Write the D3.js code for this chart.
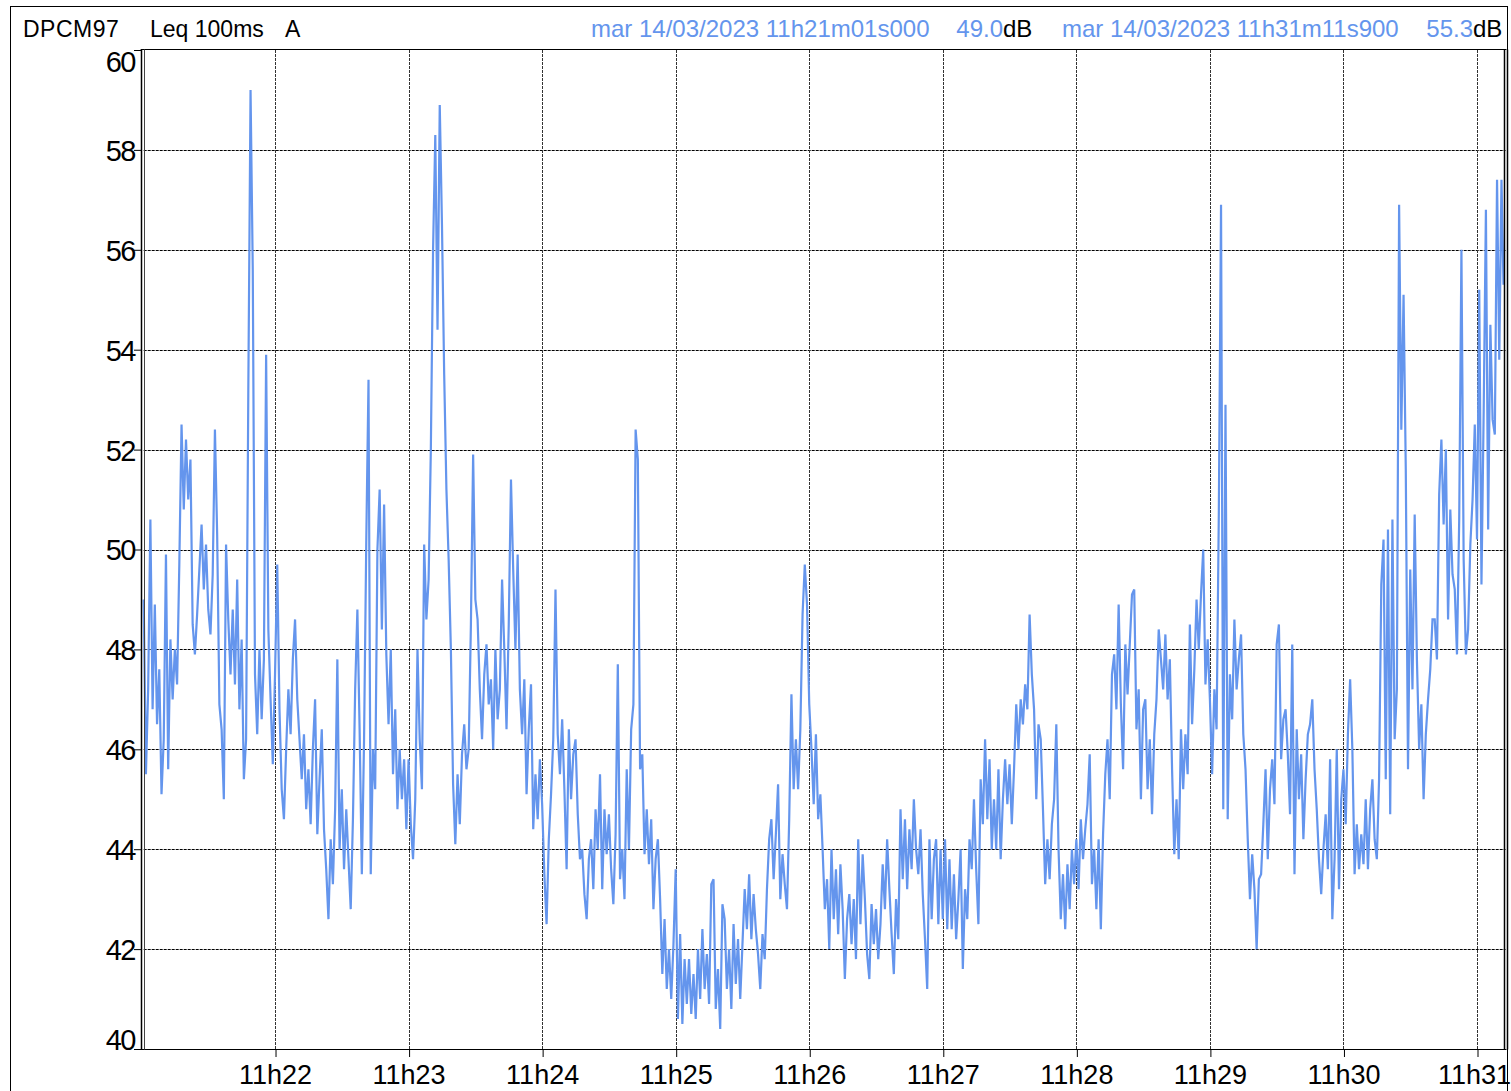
<!DOCTYPE html>
<html><head><meta charset="utf-8">
<script src="https://cdn.jsdelivr.net/npm/d3@7"></script>
<style>
body{margin:0;background:#fff;}
svg{display:block;font-family:"Liberation Sans",Arial,sans-serif;}
</style>
</head><body>
<svg id="chart" width="1511" height="1091"></svg>
<script>
// Leq 100ms A, one reading per second (dB)
const min21 = [49.0,45.5,47.2,50.6,46.8,48.9,46.5,47.6,45.1,46.2,
49.9,45.6,48.2,47.0,48.0,47.3,49.7,52.5,50.8,52.2,
51.0,51.8,48.5,47.9,48.7,49.6,50.5,49.2,50.1,48.8,
48.3,49.5,52.4,50.3,46.9,46.4,45.0,50.1,48.6,47.5,
48.8,47.3,49.4,46.8,48.2,45.4,46.2,53.2,59.2,55.6,
47.5,46.3,48.0,46.6,47.8,53.9,48.4,47.0,45.7];
const min22 = [47.5,49.7,46.8,45.2,44.6,46.0,47.2,46.3,47.8,48.6,
47.0,46.2,45.4,46.3,44.8,45.6,44.5,46.0,47.0,44.3,
45.4,46.4,44.4,43.6,42.6,44.2,43.3,44.8,47.8,44.0,
45.2,43.6,44.8,43.8,42.8,44.6,47.2,48.8,46.4,43.5,
46.2,50.2,53.4,43.5,46.0,45.2,50.0,51.2,48.4,50.9,
47.9,46.5,48.0,45.5,46.8,44.8,46.0,45.0,45.8,44.4];
const min23 = [45.8,44.5,43.8,45.0,48.0,46.2,45.2,50.1,48.6,49.4,
52.0,56.0,58.3,54.4,58.9,56.5,53.5,51.2,49.8,48.0,
45.3,44.1,45.5,44.5,45.9,46.5,45.6,46.0,48.5,51.9,
49.0,48.6,47.2,46.2,47.5,48.1,46.9,47.4,46.0,48.0,
46.6,47.2,49.4,48.0,46.4,48.5,51.4,49.6,48.0,49.9,
47.2,46.3,47.4,45.1,46.4,47.3,44.4,45.5,44.6,45.8];
const min24 = [44.9,43.5,42.5,44.2,45.1,46.2,49.2,46.3,45.5,46.6,
45.2,43.6,46.4,45.0,45.9,46.2,44.7,43.8,44.0,43.1,
42.6,43.8,44.2,43.2,44.8,44.0,45.5,43.2,44.8,43.9,
44.7,43.6,42.9,44.3,47.7,43.4,44.0,43.0,45.6,44.0,
46.4,46.9,52.4,51.8,45.6,45.9,43.9,44.8,43.7,44.6,
42.8,43.8,44.2,43.0,41.5,42.6,41.2,42.0,41.0,42.1];
const min25 = [43.6,40.6,42.3,40.5,41.8,40.9,41.8,40.7,41.5,40.6,
42.0,41.0,42.4,41.2,41.9,40.9,43.3,43.4,40.8,41.6,
40.4,42.9,42.6,41.2,42.0,40.8,42.5,41.3,42.2,41.0,
42.1,43.2,42.4,43.5,42.2,43.1,42.4,41.9,41.2,42.3,
41.8,43.2,44.2,44.6,43.4,44.3,45.3,43.0,43.9,43.3,
42.8,44.6,47.1,45.2,46.2,45.2,46.4,48.7,49.7,48.9];
const min26 = [46.9,46.0,44.9,46.3,44.6,45.1,44.0,42.8,43.4,42.0,
44.0,42.6,43.6,42.3,43.7,42.8,41.4,42.6,43.1,42.1,
43.0,41.8,44.2,42.5,43.9,43.0,41.9,41.4,42.9,42.1,
42.8,41.8,42.5,43.7,42.8,44.2,43.2,42.3,41.5,43.0,
42.2,44.8,43.4,44.6,43.2,44.4,43.6,45.0,44.0,43.5,
44.4,43.1,42.2,41.2,44.2,42.6,43.8,44.2,42.5,44.0];
const min27 = [42.6,44.2,42.4,43.8,42.4,43.5,42.2,43.0,44.0,41.6,
43.2,42.6,44.2,43.6,45.0,43.6,42.5,45.4,44.5,46.2,
44.6,45.8,44.0,45.0,44.0,45.6,43.8,45.0,45.8,44.9,
45.7,44.5,45.6,46.9,46.0,47.0,46.5,47.3,46.8,48.7,
47.5,46.8,45.0,46.5,46.2,44.8,43.3,44.2,43.4,44.5,
45.0,46.5,44.0,42.6,43.5,42.4,43.7,42.8,44.0,43.3];
const min28 = [44.2,43.2,44.6,43.8,44.4,44.9,45.9,43.3,44.0,42.8,
44.2,42.4,44.3,45.5,46.2,45.0,47.5,47.9,46.8,48.9,
46.9,45.6,48.1,47.1,48.1,49.1,49.2,46.4,47.2,45.0,
46.8,47.0,45.2,46.2,44.7,46.3,47.0,48.4,47.8,47.2,
48.3,47.0,47.8,45.6,43.9,45.0,43.8,46.4,45.2,46.3,
45.5,48.5,46.5,47.6,49.0,48.0,49.1,50.0,47.3,48.2];
const min29 = [47.0,45.5,47.2,46.4,50.7,56.9,44.8,52.9,44.6,47.5,
46.6,48.6,47.2,47.8,48.3,46.3,45.6,44.2,43.0,43.9,
43.2,42.0,43.4,43.5,44.5,45.6,43.8,45.2,45.8,44.9,
48.1,48.5,45.8,46.6,46.8,45.9,44.7,48.1,43.5,46.4,
45.0,45.9,44.2,45.4,46.3,46.5,47.0,45.6,44.8,43.8,
43.1,44.0,44.7,43.6,45.8,42.6,43.8,46.0,43.2,45.0];
const min30 = [45.6,44.5,46.3,47.4,46.0,43.5,44.5,43.6,44.3,43.7,
45.0,43.6,44.8,45.4,44.2,43.8,45.4,49.3,50.2,45.4,
50.4,44.7,50.6,46.2,47.2,56.9,52.4,55.1,51.6,45.6,
49.6,47.2,50.7,47.8,46.0,46.9,45.0,46.3,47.0,47.6,
48.6,48.6,47.8,51.1,52.2,50.5,52.0,48.6,50.8,49.5,
49.2,47.9,50.6,56.0,49.8,47.9,48.4,50.1,51.0,52.5];
const min31 = [50.2,55.2,49.3,52.8,56.8,50.4,54.5,52.6,52.3,57.4,53.8,57.4];
const lastValue = 55.3;            // 11h31m11s900
const firstValue = 49.0;           // 11h21m01s000
const yTicks = [40,42,44,46,48,50,52,54,56,58,60];

const startTime = new Date(2023, 2, 14, 11, 21, 1, 0);
const endTime = new Date(2023, 2, 14, 11, 31, 11, 900);

const values = [].concat(min21, min22, min23, min24, min25, min26, min27, min28, min29, min30, min31);
const data = values.map((v, i) => ({t: new Date(+startTime + i * 1000), v}));
data.push({t: endTime, v: lastValue});

const svg = d3.select("#chart");
const L = 143.7, R = 1503.5, T = 50, B = 1049;

const x = d3.scaleTime().domain([startTime, endTime]).range([L, R]);
const y = d3.scaleLinear().domain([40, 60]).range([B, T]);
const minuteTicks = x.ticks(d3.timeMinute.every(1));

// outer frame
svg.append("rect").attr("x", 10.5).attr("y", 6.5).attr("width", 1497).attr("height", 1100)
  .attr("fill", "none").attr("stroke", "#000").attr("stroke-width", 1);

// horizontal grid
svg.append("g").selectAll("line").data(yTicks.filter(d => d > 40 && d < 60)).join("line")
  .attr("x1", L).attr("x2", R + 2)
  .attr("y1", d => Math.round(y(d)) + 0.5).attr("y2", d => Math.round(y(d)) + 0.5)
  .attr("stroke", "#000").attr("stroke-width", 1).attr("stroke-dasharray", "3 1");

// vertical grid
svg.append("g").selectAll("line").data(minuteTicks).join("line")
  .attr("x1", d => Math.round(x(d)) + 0.5).attr("x2", d => Math.round(x(d)) + 0.5)
  .attr("y1", T).attr("y2", B)
  .attr("stroke", "#333").attr("stroke-width", 1).attr("stroke-dasharray", "3 1");

// data line
const line = d3.line().x(d => x(d.t)).y(d => y(d.v));
svg.append("path").datum(data).attr("d", line)
  .attr("fill", "none").attr("stroke", "#6495ED").attr("stroke-width", 2.2)
  .attr("stroke-linejoin", "miter").attr("stroke-miterlimit", 2);

// plot frame
svg.append("line").attr("x1", L - 3).attr("x2", R + 3).attr("y1", T - 0.5).attr("y2", T - 0.5).attr("stroke", "#000");
svg.append("line").attr("x1", L - 3).attr("x2", R + 3).attr("y1", B + 0.5).attr("y2", B + 0.5).attr("stroke", "#000");
svg.append("line").attr("x1", 141.5).attr("x2", 141.5).attr("y1", T - 0.5).attr("y2", B + 0.5).attr("stroke", "#000").attr("stroke-width", 1.5);
svg.append("line").attr("x1", 144.5).attr("x2", 144.5).attr("y1", T - 0.5).attr("y2", B + 0.5).attr("stroke", "#444").attr("stroke-width", 1);
svg.append("line").attr("x1", 1504.5).attr("x2", 1504.5).attr("y1", T - 0.5).attr("y2", B + 0.5).attr("stroke", "#000").attr("stroke-width", 1.5);
svg.append("line").attr("x1", 1507.5).attr("x2", 1507.5).attr("y1", T - 0.5).attr("y2", B + 0.5).attr("stroke", "#000").attr("stroke-width", 1.5);

// x axis
const xAxis = d3.axisBottom(x).tickValues(minuteTicks).tickFormat(d3.timeFormat("%Hh%M")).tickSize(8).tickSizeOuter(0);
const gx = svg.append("g").attr("transform", `translate(0,${B})`).call(xAxis);
gx.select(".domain").remove();
gx.selectAll(".tick line").attr("stroke", "#000").attr("transform", "translate(0.5,0)");
gx.selectAll(".tick text").attr("y", 35).attr("dy", 0).attr("fill", "#000")
  .style("font-size", "27px").style("font-family", "'Liberation Sans',Arial,sans-serif")
  .attr("dx", d => (x(d) + 37 > 1508 ? -3 : 0));

// y axis
const yAxis = d3.axisLeft(y).tickValues(yTicks).tickFormat(d3.format("d")).tickSize(7).tickSizeOuter(0);
const gy = svg.append("g").attr("transform", `translate(${141},0)`).call(yAxis);
gy.select(".domain").remove();
gy.selectAll(".tick line").attr("stroke", "#000");
gy.selectAll(".tick text").attr("x", -6).attr("fill", "#000")
  .style("font-size", "29px").style("letter-spacing", "-1.5px")
  .style("font-family", "'Liberation Sans',Arial,sans-serif")
  .attr("dy", d => d === 40 ? "0em" : (d === 60 ? "0.75em" : "0.36em"));

// header
const hdr = svg.append("g").style("font-size", "23px");
hdr.append("text").attr("x", 23).attr("y", 37).attr("fill", "#000").style("letter-spacing", "0.5px").text("DPCM97");
hdr.append("text").attr("x", 150).attr("y", 37).attr("fill", "#000").text("Leq 100ms");
hdr.append("text").attr("x", 285).attr("y", 37).attr("fill", "#000").text("A");
const blue = "#6495ED";
const hr = svg.append("g").style("font-size", "24px");
hr.append("text").attr("x", 591).attr("y", 37).attr("fill", blue).text("mar 14/03/2023 11h21m01s000");
hr.append("text").attr("x", 1003).attr("y", 37).attr("fill", blue).attr("text-anchor", "end").text(firstValue.toFixed(1));
hr.append("text").attr("x", 1003).attr("y", 37).attr("fill", "#000").text("dB");
hr.append("text").attr("x", 1062).attr("y", 37).attr("fill", blue).text("mar 14/03/2023 11h31m11s900");
hr.append("text").attr("x", 1473).attr("y", 37).attr("fill", blue).attr("text-anchor", "end").text(lastValue.toFixed(1));
hr.append("text").attr("x", 1473).attr("y", 37).attr("fill", "#000").text("dB");
</script>
</body></html>
